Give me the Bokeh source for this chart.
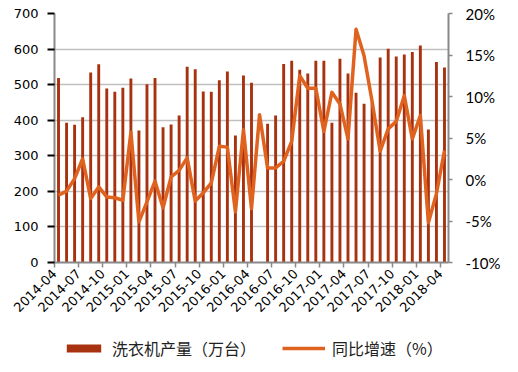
import numpy as np
from bokeh.plotting import figure
from bokeh.layouts import column
from bokeh.models import (Range1d, LinearAxis, FixedTicker, Legend, LegendItem,
                          ColumnDataSource, PrintfTickFormatter)
from bokeh.embed import file_html
from bokeh.resources import INLINE

nan = float("nan")

months = [
    "2014-04", "2014-05", "2014-06", "2014-07", "2014-08", "2014-09", "2014-10", "2014-11", "2014-12",
    "2015-01", "2015-02", "2015-03", "2015-04", "2015-05", "2015-06", "2015-07", "2015-08", "2015-09",
    "2015-10", "2015-11", "2015-12", "2016-01", "2016-02", "2016-03", "2016-04", "2016-05", "2016-06",
    "2016-07", "2016-08", "2016-09", "2016-10", "2016-11", "2016-12", "2017-01", "2017-02", "2017-03",
    "2017-04", "2017-05", "2017-06", "2017-07", "2017-08", "2017-09", "2017-10", "2017-11", "2017-12",
    "2018-01", "2018-02", "2018-03", "2018-04",
]

production = [519, 393, 387, 408, 534, 557, 489, 480, 491, 517,
              371, 501, 519, 380, 388, 413, 550, 543, 481, 480,
              512, 537, 357, 526, 505, nan, 390, 413, 558, 567,
              542, 531, 567, 567, 393, 573, 531, 477, 446, 450,
              576, 601, 579, 585, 592, 610, 374, 564, 548]

yoy = [-1.9, -1.4, 0.1, 2.5, -2.3, -0.9, -2.1, -2.2, -2.5, 5.7,
       -5.1, -2.7, -0.2, -3.4, 0.3, 1.1, 2.6, -2.6, -1.6, -0.4,
       4.0, 3.9, -3.9, 6.0, -3.5, 7.8, 1.4, 1.4, 2.2, 4.6,
       12.5, 11.0, 11.0, 5.8, 10.5, 9.1, 4.9, 18.1, 14.9, 9.4,
       3.4, 6.1, 7.0, 10.1, 4.9, 7.7, -5.2, -1.7, 3.5]

tick_labels = ["2014-04", "2014-07", "2014-10", "2015-01", "2015-04", "2015-07",
               "2015-10", "2016-01", "2016-04", "2016-07", "2016-10", "2017-01",
               "2017-04", "2017-07", "2017-10", "2018-01", "2018-04"]

left_ticks = [0, 100, 200, 300, 400, 500, 600, 700]
right_ticks = [-10, -5, 0, 5, 10, 15, 20]

bar_name = "洗衣机产量（万台）"
line_name = "同比增速（%）"

BAR_COLOR = "#A8320F"
LINE_COLOR = "#E0621F"
AXIS_COLOR = "#888888"
GRID_COLOR = "#C0C0C0"

idx = list(range(len(months)))
src = ColumnDataSource(dict(x=idx, prod=np.array(production, dtype=float), yoy=yoy, month=months))

p = figure(frame_width=394, frame_height=249, output_backend="svg", toolbar_location=None,
           x_range=Range1d(-0.5, len(months) - 0.5), y_range=Range1d(0, 700),
           min_border_left=54, min_border_right=54, min_border_top=13, min_border_bottom=64)
p.extra_y_ranges = {"pct": Range1d(-10, 20)}
p.outline_line_color = None
p.background_fill_color = "white"
p.border_fill_color = "white"

bars = p.vbar(x="x", top="prod", width=0.36, source=src, color=BAR_COLOR, line_color=None)
line = p.line(x="x", y="yoy", source=src, y_range_name="pct", line_color=LINE_COLOR,
              line_width=3.5, line_join="round")

# grid
p.xgrid.visible = False
p.ygrid.ticker = FixedTicker(ticks=left_ticks)
p.ygrid.grid_line_color = GRID_COLOR
p.ygrid.grid_line_width = 1.5

# x axis: ticks on category boundaries every 3 months
xt = [i - 0.5 for i in range(0, len(months), 3)]
xa = p.xaxis[0]
xa.ticker = FixedTicker(ticks=xt)
xa.major_label_overrides = {t: lab for t, lab in zip(xt, tick_labels)}
xa.major_label_orientation = np.pi / 4
xa.major_label_text_font = "DejaVu Sans"
xa.major_label_text_font_size = "13px"
xa.major_label_text_color = "#000000"
xa.axis_line_color = AXIS_COLOR
xa.axis_line_width = 2
xa.major_tick_line_color = AXIS_COLOR
xa.major_tick_line_width = 1.5
xa.major_tick_out = 5
xa.major_tick_in = 0
xa.minor_tick_line_color = None
xa.major_label_standoff = 4

# left axis
ya = p.yaxis[0]
ya.ticker = FixedTicker(ticks=left_ticks)
ya.major_label_text_font = "DejaVu Sans"
ya.major_label_text_font_size = "13px"
ya.major_label_text_color = "#000000"
ya.axis_line_color = AXIS_COLOR
ya.axis_line_width = 2
ya.major_tick_line_color = "#000000"
ya.major_tick_line_width = 2
ya.major_tick_out = 7
ya.major_tick_in = 0
ya.minor_tick_line_color = None
ya.major_label_standoff = 9

# right axis
ra = LinearAxis(y_range_name="pct", ticker=FixedTicker(ticks=right_ticks),
                formatter=PrintfTickFormatter(format="%d%%"))
ra.major_label_text_font = "Lato"
ra.major_label_text_font_size = "15px"
ra.major_label_text_color = "#000000"
ra.axis_line_color = AXIS_COLOR
ra.axis_line_width = 2
ra.major_tick_line_color = AXIS_COLOR
ra.major_tick_line_width = 1.5
ra.major_tick_out = 4
ra.major_tick_in = 0
ra.minor_tick_line_color = None
ra.major_label_standoff = 13
p.add_layout(ra, "right")

# legend strip below the chart (same series, drawn out of view; only the legend shows)
q = figure(width=502, height=36, output_backend="svg", toolbar_location=None,
           x_range=Range1d(-0.5, len(months) - 0.5), y_range=Range1d(1000, 1001),
           x_axis_location=None, y_axis_location=None, min_border=0)
q.grid.visible = False
q.outline_line_color = None
q.background_fill_color = "white"
q.border_fill_color = "white"
lb = q.vbar(x="x", top="prod", width=0.36, source=src, color=BAR_COLOR, line_color=None)
ll = q.line(x="x", y="yoy", source=src, line_color=LINE_COLOR, line_width=3.5)

legend = Legend(items=[LegendItem(label=bar_name, renderers=[lb]),
                       LegendItem(label=line_name, renderers=[ll])],
                orientation="horizontal", location=(8, 2))
legend.label_text_font = "Noto Sans CJK SC"
legend.label_text_font_size = "16px"
legend.label_text_color = "#222222"
legend.glyph_width = 43
legend.glyph_height = 10
legend.label_standoff = 7
legend.spacing = 26
legend.padding = 0
legend.margin = 0
legend.border_line_color = None
legend.background_fill_alpha = 0
q.add_layout(legend, "center")

layout = column(p, q, spacing=0)
open("out.html", "w").write(file_html(layout, INLINE))
